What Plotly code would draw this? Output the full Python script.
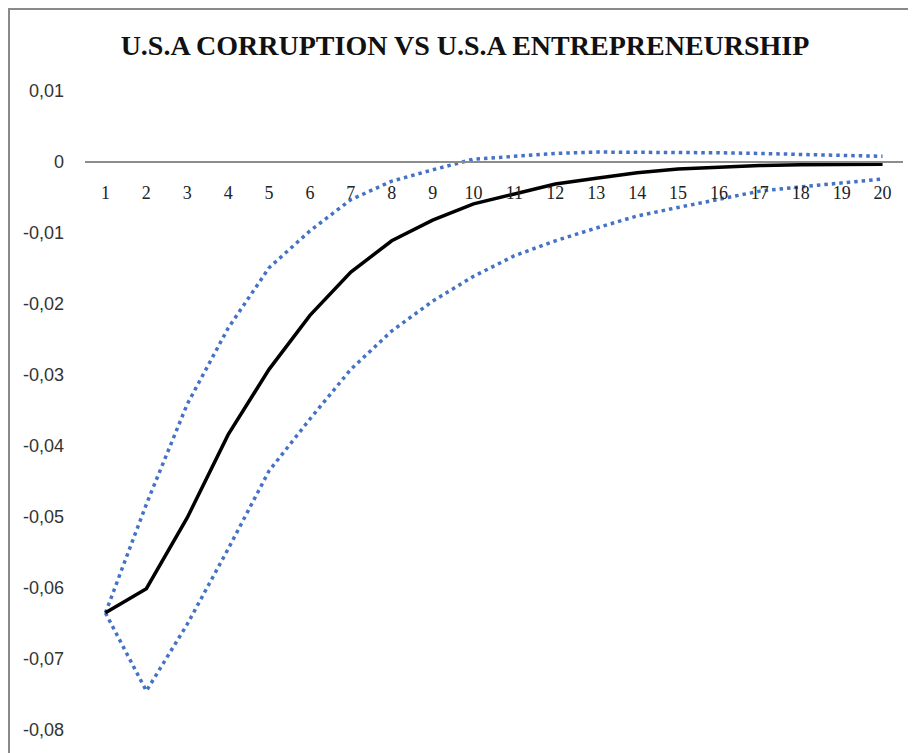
import plotly.graph_objects as go

periods = list(range(1, 21))
x_labels = [str(p) for p in periods]

response = [-0.0635, -0.0601, -0.0501, -0.0384, -0.0292, -0.0216, -0.0155, -0.0111,
            -0.0082, -0.0059, -0.0045, -0.0031, -0.0023, -0.0015, -0.0010, -0.0007,
            -0.0005, -0.0004, -0.0003, -0.0003]
upper_band = [-0.0635, -0.0482, -0.0341, -0.0234, -0.0149, -0.0097, -0.0053, -0.0027,
              -0.0011, 0.0004, 0.0008, 0.0012, 0.0014, 0.0014, 0.0014, 0.0013,
              0.0012, 0.0011, 0.0009, 0.0008]
lower_band = [-0.0635, -0.0745, -0.0651, -0.0545, -0.0435, -0.0362, -0.0292, -0.0238,
              -0.0196, -0.0161, -0.0132, -0.0111, -0.0093, -0.0076, -0.0064, -0.0053,
              -0.0041, -0.0035, -0.0029, -0.0024]

y_tickvals = [0.01, 0.0, -0.01, -0.02, -0.03, -0.04, -0.05, -0.06, -0.07, -0.08]
y_ticktext = ["0,01", "0", "-0,01", "-0,02", "-0,03", "-0,04", "-0,05", "-0,06", "-0,07", "-0,08"]

title_text = "U.S.A CORRUPTION VS U.S.A ENTREPRENEURSHIP"

# page body has an 8px margin, so the figure starts at (8, 8) in the window
W, H = 908, 745
ML, MR, MT, MB = 77, 13, 83, 23
PW, PH = W - ML - MR, H - MT - MB
y_min, y_max = -0.08, 0.01

fig = go.Figure()
band_color = "#4472C4"
for band in (upper_band, lower_band):
    fig.add_trace(go.Scatter(x=periods, y=band, mode="lines",
                             line=dict(color=band_color, width=3.5, dash="3.5px,4px"),
                             showlegend=False, hoverinfo="skip"))
fig.add_trace(go.Scatter(x=periods, y=response, mode="lines",
                         line=dict(color="#000000", width=3.5),
                         showlegend=False))

zero_pos = (0 - y_min) / (y_max - y_min)

fig.update_layout(
    width=W, height=H,
    margin=dict(l=ML, r=MR, t=MT, b=MB),
    paper_bgcolor="white", plot_bgcolor="white",
    title=dict(text="<b>" + title_text + "</b>", x=457 / W,
               xanchor="center", y=1 - 37 / H, yanchor="middle",
               font=dict(family="Liberation Serif", size=28, color="#111111")),
    xaxis=dict(range=[0.5, 20.5], tickmode="array", tickvals=periods, ticktext=x_labels,
               anchor="free", position=zero_pos, showline=True, linecolor="#8c8c8c",
               linewidth=1.5, ticks="", showgrid=False, zeroline=False,
               tickfont=dict(family="Liberation Serif", size=18, color="#222222"),
               ticklabelstandoff=15),
    yaxis=dict(range=[y_min, y_max], tickmode="array", tickvals=y_tickvals, ticktext=y_ticktext,
               showline=False, ticks="", showgrid=False, zeroline=False,
               tickfont=dict(family="Liberation Sans", size=18, color="#333333"),
               ticklabelstandoff=20),
    shapes=[
        dict(type="line", xref="paper", yref="paper",
             x0=-ML / PW, x1=(W - ML) / PW,
             y0=(H - MB - 1) / PH, y1=(H - MB - 1) / PH,
             line=dict(color="#8a8a8a", width=2)),
        dict(type="line", xref="paper", yref="paper",
             x0=(1 - ML) / PW, x1=(1 - ML) / PW,
             y0=(H - MB) / PH, y1=-MB / PH,
             line=dict(color="#8a8a8a", width=2)),
    ],
)

fig.write_html("out.html")
